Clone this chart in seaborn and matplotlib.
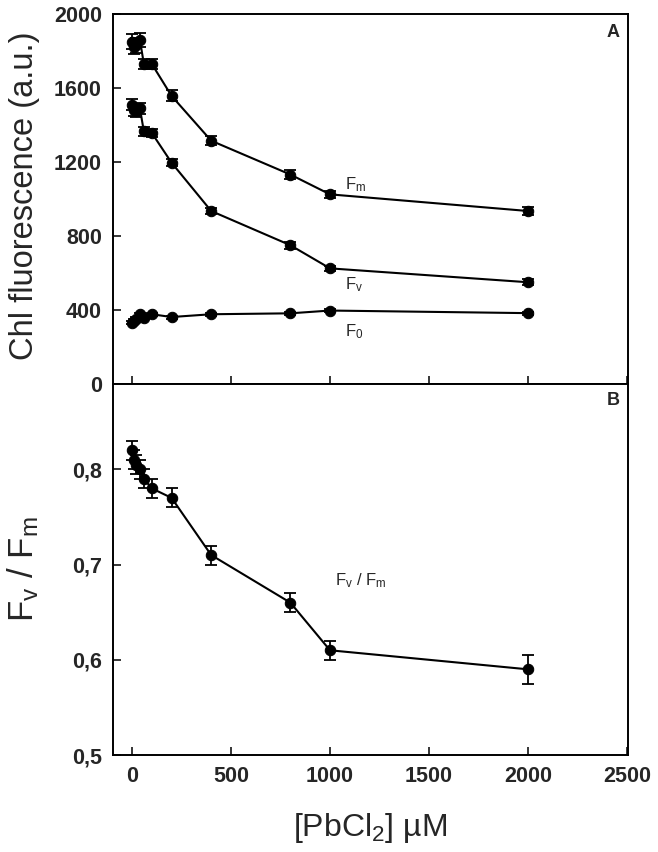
import numpy as np
import pandas as pd
import seaborn as sns
import matplotlib
matplotlib.use("Agg")
import matplotlib.pyplot as plt
from matplotlib.ticker import FixedLocator, FuncFormatter

# ---- data ----
conc = [0, 10, 20, 40, 60, 100, 200, 400, 800, 1000, 2000]
fm = [1850, 1820, 1830, 1860, 1730, 1730, 1557, 1315, 1132, 1025, 935]
fm_err = [40, 35, 40, 38, 25, 28, 30, 25, 22, 20, 22]
fv = [1510, 1480, 1475, 1490, 1365, 1357, 1196, 935, 750, 625, 550]
fv_err = [28, 30, 30, 30, 22, 22, 20, 18, 18, 15, 15]
f0 = [332, 342, 352, 378, 358, 377, 362, 377, 382, 397, 383]
f0_err = [8, 8, 8, 8, 8, 8, 8, 8, 8, 8, 8]
ratio = [0.82, 0.81, 0.805, 0.80, 0.79, 0.78, 0.77, 0.71, 0.66, 0.61, 0.59]
ratio_err = [0.01, 0.01, 0.01, 0.01, 0.01, 0.01, 0.01, 0.01, 0.01, 0.01, 0.015]

a_yticks = [0, 400, 800, 1200, 1600, 2000]
b_yticks = [0.5, 0.6, 0.7, 0.8]
x_ticks = [0, 500, 1000, 1500, 2000, 2500]

sns.set_style("ticks")
plt.rcParams['font.family'] = ['Liberation Sans', 'DejaVu Sans']
plt.rcParams['mathtext.default'] = 'regular'

fig = plt.figure(figsize=(6.58, 8.52), dpi=100)
axA = fig.add_axes([0.1717, 0.5493, 0.7827, 0.4343])
axB = fig.add_axes([0.1717, 0.1138, 0.7827, 0.4354])

dfA = pd.DataFrame({
    'conc': conc * 3,
    'val': fm + fv + f0,
    'series': ['Fm'] * len(conc) + ['Fv'] * len(conc) + ['F0'] * len(conc),
})
sns.lineplot(data=dfA, x='conc', y='val', hue='series', palette=['black'] * 3,
             marker='o', markersize=7.5, markeredgecolor='black', linewidth=1.5,
             legend=False, ax=axA, errorbar=None)
for vals, errs in [(fm, fm_err), (fv, fv_err), (f0, f0_err)]:
    axA.errorbar(conc, vals, yerr=errs, fmt='none', ecolor='black',
                 elinewidth=1.3, capsize=4.5, capthick=1.3, zorder=3)

dfB = pd.DataFrame({'conc': conc, 'val': ratio})
sns.lineplot(data=dfB, x='conc', y='val', color='black', marker='o',
             markersize=7.5, markeredgecolor='black', linewidth=1.5,
             ax=axB, errorbar=None)
axB.errorbar(conc, ratio, yerr=ratio_err, fmt='none', ecolor='black',
             elinewidth=1.3, capsize=4.5, capthick=1.3, zorder=3)

for ax in (axA, axB):
    ax.set_xlim(-96, 2505)
    ax.xaxis.set_major_locator(FixedLocator(x_ticks))
    ax.tick_params(direction='in', length=6, width=1.3, top=False, right=False,
                   labelsize=15.5, pad=8)
    for sp in ax.spines.values():
        sp.set_visible(True)
        sp.set_linewidth(1.4)
        sp.set_color('black')
    ax.set_xlabel('')
    ax.set_ylabel('')

axA.set_ylim(0, 2000)
axA.yaxis.set_major_locator(FixedLocator(a_yticks))
axA.tick_params(axis='x', labelbottom=False)
axB.set_ylim(0.5, 0.8895)
axB.yaxis.set_major_locator(FixedLocator(b_yticks))
axB.yaxis.set_major_formatter(FuncFormatter(lambda v, p: f"{v:.1f}".replace('.', ',')))
for ax in (axA, axB):
    for lab in ax.get_xticklabels() + ax.get_yticklabels():
        lab.set_fontweight('bold')

axA.set_ylabel('Chl fluorescence (a.u.)', fontsize=23.5)
axA.yaxis.set_label_coords(-0.142, 0.51)
axB.set_ylabel(r'F$_v$ / F$_m$', fontsize=25)
axB.yaxis.set_label_coords(-0.140, 0.5)
axB.set_xlabel(r'[PbCl$_2$] µM', fontsize=23, labelpad=17)

axA.text(1075, 1078, r'F$_m$', fontsize=12, ha='left', va='center')
axA.text(1075, 535, r'F$_v$', fontsize=12, ha='left', va='center')
axA.text(1075, 284, r'F$_0$', fontsize=12, ha='left', va='center')
axB.text(1025, 0.683, r'F$_v$ / F$_m$', fontsize=12, ha='left', va='center')

axA.text(0.971, 0.951, 'A', transform=axA.transAxes, fontsize=13,
         fontweight='bold', ha='center', va='center')
axB.text(0.971, 0.957, 'B', transform=axB.transAxes, fontsize=13,
         fontweight='bold', ha='center', va='center')

fig.savefig('out.png', dpi=100)
